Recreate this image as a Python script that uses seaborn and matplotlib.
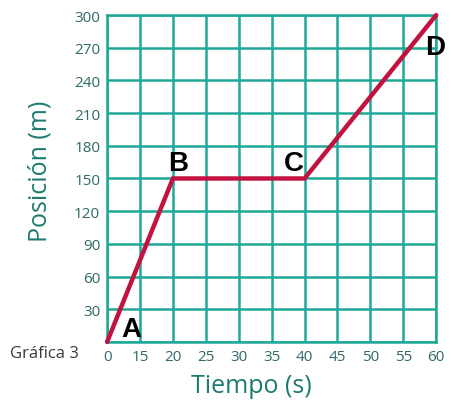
import numpy as np
import pandas as pd
import matplotlib
matplotlib.use("Agg")
import matplotlib.pyplot as plt
import seaborn as sns

# data
tiempo = [0, 20, 40, 60]
posicion = [0, 150, 150, 300]
puntos = ["A", "B", "C", "D"]
x_ticks = [0, 15, 20, 25, 30, 35, 40, 45, 50, 55, 60]
y_ticks = [0, 30, 60, 90, 120, 150, 180, 210, 240, 270, 300]
y_tick_labels = ["", "30", "60", "90", "120", "150", "180", "210", "240", "270", "300"]

# where each letter sits (data units)
label_pos = [(11, 0), (20.8, 164), (38.4, 164), (59.8, 271)]

teal = "#1fa898"
dark_teal = "#2e6a66"
crimson = "#c2123f"

sns.set_theme(style="white")
plt.rcParams["font.family"] = ["Open Sans", "DejaVu Sans"]


# first column of the grid covers 0-15, the others 5 s each
def fwd(t):
    t = np.asarray(t, dtype=float)
    return np.where(t <= 15, t / 15, 1 + (t - 15) / 5)


def inv(u):
    u = np.asarray(u, dtype=float)
    return np.where(u <= 1, 15 * u, 15 + 5 * (u - 1))


df = pd.DataFrame({"Tiempo": tiempo, "Posicion": posicion})

fig = plt.figure(figsize=(4.52, 4.02), dpi=100)
ax = fig.add_axes([0.237, 0.147, 0.728, 0.813])
ax.set_xscale("function", functions=(fwd, inv))

sns.lineplot(data=df, x="Tiempo", y="Posicion", ax=ax, color=crimson,
             linewidth=3.2, solid_capstyle="round", solid_joinstyle="miter",
             zorder=5, clip_on=False)

ax.set_xlim(0, 60)
ax.set_ylim(0, 300)
ax.set_xticks(x_ticks)
ax.set_xticklabels([str(v) for v in x_ticks])
ax.set_yticks(y_ticks)
ax.set_yticklabels(y_tick_labels)
ax.grid(True, color=teal, linewidth=1.8)
ax.set_axisbelow(True)
for s in ax.spines.values():
    s.set_color(teal)
    s.set_linewidth(1.8)
ax.tick_params(length=0, labelsize=11, labelcolor=dark_teal, pad=5)

for name, (px, py) in zip(puntos, label_pos):
    ax.text(px, py, name, fontsize=20, fontweight="bold", color="black",
            ha="center", va="bottom" if name == "A" else "center",
            family=["Liberation Sans", "DejaVu Sans"], zorder=6)

ax.set_xlabel("Tiempo (s)", fontsize=18, color="#1d7a70")
ax.set_ylabel("Posición (m)", fontsize=18, color="#1d7a70")
ax.xaxis.set_label_coords(0.439, -0.095)
ax.yaxis.set_label_coords(-0.165, 0.525)

fig.text(0.022, 0.12, "Gráfica 3", fontsize=12, color="#3a3a3a", ha="left", va="center")

fig.savefig("out.png", dpi=100)
